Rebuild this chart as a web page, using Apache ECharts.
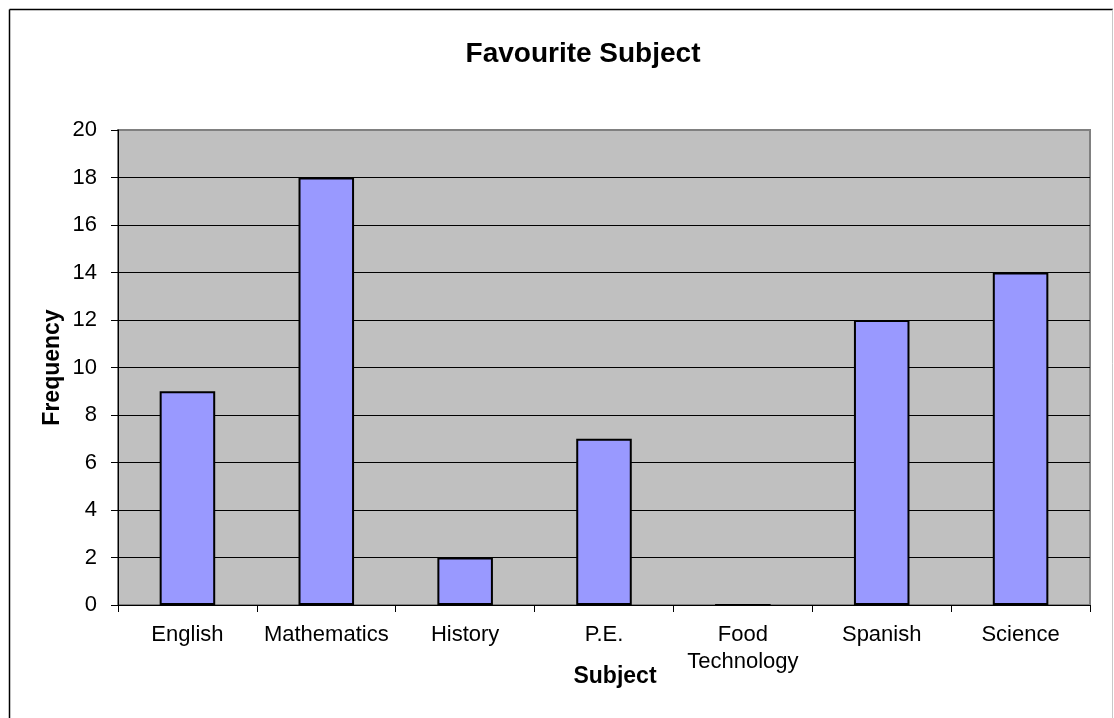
<!DOCTYPE html>
<html><head><meta charset="utf-8">
<script src="https://cdn.jsdelivr.net/npm/echarts@6/dist/echarts.min.js"></script>
<style>html,body{margin:0;padding:0;background:#fff}#c{width:1114px;height:718px}</style>
</head><body><div id="c"></div>
<script>
const categories = ['English', 'Mathematics', 'History', 'P.E.', 'Food\nTechnology', 'Spanish', 'Science'];
const frequency = [9, 18, 2, 7, 0, 12, 14];
const yTicks = {min: 0, max: 20, interval: 2};

const chart = echarts.init(document.getElementById('c'), null, {renderer: 'canvas'});
const font = 'Arial, "Liberation Sans", sans-serif';
const borderLines = [
  {type: 'line', shape: {x1: 9.5, y1: 9.5, x2: 9.5, y2: 718}, style: {stroke: '#000', lineWidth: 1.5}},
  {type: 'line', shape: {x1: 9.5, y1: 9.5, x2: 1113, y2: 9.5}, style: {stroke: '#000', lineWidth: 1.5}},
  {type: 'line', shape: {x1: 1112.5, y1: 9.5, x2: 1112.5, y2: 718}, style: {stroke: '#c8c8c8', lineWidth: 1}}
];
chart.setOption({
  animation: false,
  backgroundColor: '#fff',
  title: {
    text: 'Favourite Subject', left: 578, top: 35, textAlign: 'center',
    textStyle: {fontFamily: font, fontSize: 28, fontWeight: 'bold', color: '#000'}
  },
  grid: {left: 118, right: 24, top: 130, bottom: 113, show: true, backgroundColor: '#C0C0C0', borderColor: '#808080', borderWidth: 2},
  xAxis: {
    type: 'category', data: categories,
    name: 'Subject', nameLocation: 'middle', nameGap: 60, nameMoveOverlap: false,
    nameTextStyle: {fontFamily: font, fontSize: 23, fontWeight: 'bold', color: '#000', padding: [0, 0, 0, 22]},
    axisLine: {lineStyle: {color: '#000', width: 1}},
    axisTick: {show: true, alignWithLabel: false, length: 7, lineStyle: {color: '#000'}},
    axisLabel: {fontFamily: font, fontSize: 22, color: '#000', margin: 16, lineHeight: 27, interval: 0}
  },
  yAxis: {
    type: 'value', min: yTicks.min, max: yTicks.max, interval: yTicks.interval,
    name: 'Frequency', nameLocation: 'middle', nameGap: 54, nameRotate: 90, nameMoveOverlap: false,
    nameTextStyle: {fontFamily: font, fontSize: 23, fontWeight: 'bold', color: '#000'},
    axisLine: {show: true, lineStyle: {color: '#000', width: 1}},
    axisTick: {show: true, length: 7, lineStyle: {color: '#000'}},
    axisLabel: {fontFamily: font, fontSize: 22, color: '#000', margin: 21},
    splitLine: {show: true, lineStyle: {color: '#000', width: 1}}
  },
  series: [{
    type: 'bar', data: frequency, barCategoryGap: '60%',
    itemStyle: {color: '#9999FF', borderColor: '#000', borderWidth: 2}
  }],
  graphic: borderLines
});
// gray top border of plot area (over the max split line)
const tl = chart.convertToPixel({gridIndex: 0}, [0, yTicks.max]);
const gridRect = chart.getModel().getComponent('grid', 0).coordinateSystem.getRect();
chart.setOption({graphic: borderLines.concat([
  {type: 'line', z: 100, shape: {x1: gridRect.x + 1, y1: tl[1], x2: gridRect.x + gridRect.width, y2: tl[1]}, style: {stroke: '#808080', lineWidth: 2}}
])});
</script></body></html>
